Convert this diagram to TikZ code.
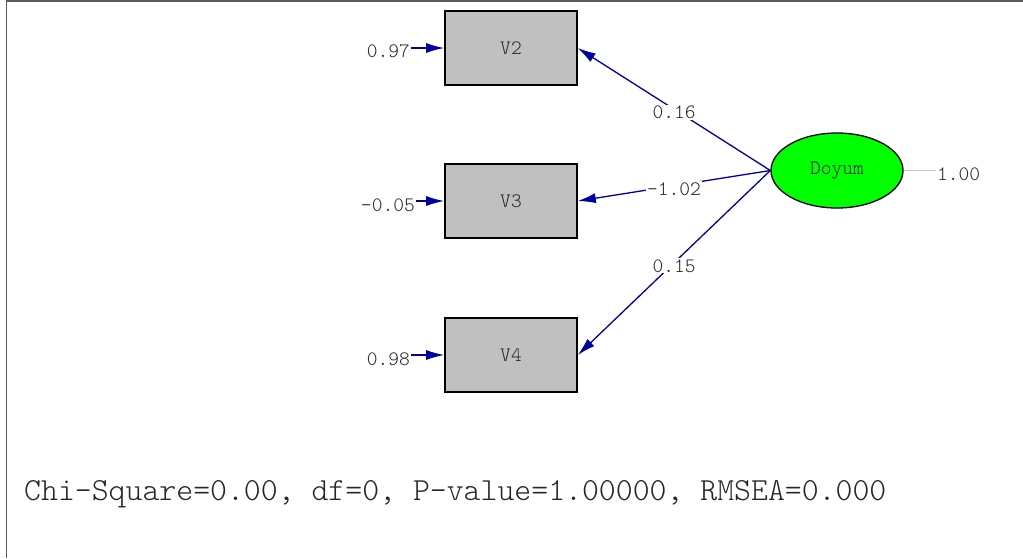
\documentclass[tikz,border=0pt]{standalone}
\usepackage{fontspec}
\newfontfamily\semfont{Latin Modern Mono Light}
\usetikzlibrary{arrows.meta,shapes.geometric}

\definecolor{pathBlue}{RGB}{0,0,160}
\definecolor{boxGray}{RGB}{192,192,192}
\definecolor{latGreen}{RGB}{0,255,0}
\definecolor{frameGray}{RGB}{90,90,90}

\tikzstyle{obsNode}=[draw,rectangle,fill=boxGray,line width=1.6pt,minimum width=132pt,minimum height=74pt,inner sep=0pt,font=\semfont\fontsize{20.5}{20.5}\selectfont,text=black!85]
\tikzstyle{latNode}=[draw,ellipse,fill=latGreen,line width=1.3pt,minimum width=132pt,minimum height=75pt,inner sep=0pt,font=\semfont\fontsize{20.5}{20.5}\selectfont,text=black!85]
\tikzstyle{valNode}=[inner sep=1pt,font=\semfont\fontsize{20.5}{20.5}\selectfont,text=black!85]
\tikzstyle{loadPath}=[-{Latex[length=18pt,width=10pt]}, draw=pathBlue, line width=1.3pt]

\begin{document}
\begin{tikzpicture}[x=1pt,y=-1pt]
		\useasboundingbox (0,0) rectangle (1023,558);
		\draw[frameGray,line width=1.6pt] (6.5,558) -- (6.5,0.8) -- (1023,0.8);
		
		\node[obsNode] (v2) at (511,48) {V2};
		\node[obsNode] (v3) at (511,201) {V3};
		\node[obsNode] (v4) at (511,355) {V4};
		\node[latNode] (doyum) at (837,170.5) {Doyum};
		
		\node[valNode,anchor=base east] (e2) at (411,57) {0.97};
		\node[valNode,anchor=base east] (e3) at (416,211) {-0.05};
		\node[valNode,anchor=base east] (e4) at (411,365) {0.98};
		\node[valNode,anchor=base west] (d1) at (936,180) {1.00};
		
		\draw[loadPath] (e2.east |- v2.west) -- (v2.west);
		\draw[loadPath] (e3.east |- v3.west) -- (v3.west);
		\draw[loadPath] (e4.east |- v4.west) -- (v4.west);
		\draw[gray!45,line width=1.3pt] (doyum.east) -- (d1.west |- doyum.east);
		
		\draw[loadPath] (doyum.west) -- node[midway,valNode,fill=white,yshift=-3pt] {0.16} (v2.east);
		\draw[loadPath] (doyum.west) -- node[midway,valNode,fill=white,yshift=-3pt] {-1.02} (v3.east);
		\draw[loadPath] (doyum.west) -- node[midway,valNode,fill=white,yshift=-3pt] {0.15} (v4.east);
		
		\node[anchor=base west,inner sep=0pt,font=\semfont\fontsize{32.2}{32.2}\selectfont,text=black!85] (fit) at (24,500) {Chi-Square=0.00, df=0, P-value=1.00000, RMSEA=0.000};
\end{tikzpicture}
\end{document}
